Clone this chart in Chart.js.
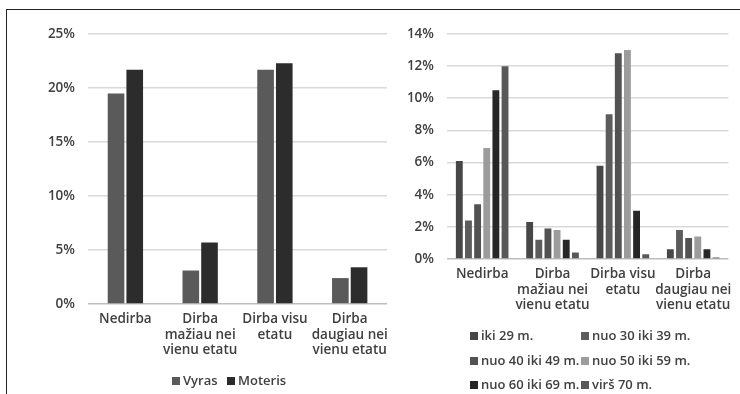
<!DOCTYPE html>
<html>
<head>
<meta charset="utf-8">
<script src="https://cdn.jsdelivr.net/npm/chart.js@4"></script>
<style>
  html, body { margin: 0; padding: 0; background: #fff; }
  body { width: 740px; height: 394px; position: relative; overflow: hidden;
         font-family: "Open Sans", sans-serif; }
  #frame { position: absolute; left: 6px; top: 9px; width: 740px; height: 400px;
           border-left: 1.5px solid #222; border-top: 1.5px solid #222; }
  #c1 { position: absolute; left: 7px; top: 10px; }
  #c2 { position: absolute; left: 396px; top: 10px; }
  .lg { position: absolute; font-size: 13px; font-weight: 600; color: #404040;
        white-space: nowrap; line-height: 16px; }
  .lg span.box { display: inline-block; width: 8px; height: 8px; margin-right: 3px;
                 vertical-align: 0px; }
</style>
</head>
<body>
<div id="frame"></div>
<canvas id="c1" width="389" height="384"></canvas>
<canvas id="c2" width="344" height="384"></canvas>
<script>
// ---- data ----
const categories = [
  ["Nedirba"],
  ["Dirba", "mažiau nei", "vienu etatu"],
  ["Dirba visu", "etatu"],
  ["Dirba", "daugiau nei", "vienu etatu"]
];
const genderLabels = ["Vyras", "Moteris"];
const vyras   = [19.5, 3.1, 21.7, 2.4];
const moteris = [21.7, 5.7, 22.3, 3.4];

const ageLabels = ["iki 29 m.", "nuo 30 iki 39 m.", "nuo 40 iki 49 m.",
                   "nuo 50 iki 59 m.", "nuo 60 iki 69 m.", "virš 70 m."];
const age29   = [6.1, 2.3, 5.8, 0.6];
const age30   = [2.4, 1.2, 9.0, 1.8];
const age40   = [3.4, 1.9, 12.8, 1.3];
const age50   = [6.9, 1.8, 13.0, 1.4];
const age60   = [10.5, 1.2, 3.0, 0.6];
const age70   = [12.0, 0.4, 0.3, 0.1];

const leftTicksMax = 25, leftStep = 5;
const rightTicksMax = 14, rightStep = 2;

// ---- styles ----
const genderColors = ["#5a5a5a", "#2c2c2c"];
const ageColors = ["#474747", "#5c5c5c", "#525252", "#9c9c9c", "#262626", "#585858"];
const txt = "#404040";
const font = { family: "'Open Sans', sans-serif", size: 13.5, weight: 600 };

function gridColor(ctx) {
  return ctx.tick && ctx.tick.value === 0 ? "#bdbdbd" : "#d9d9d9";
}

function makeChart(id, datasets, max, step, yWidth, xHeight, padRight, catPct, barPct) {
  return new Chart(document.getElementById(id), {
    type: "bar",
    data: { labels: categories, datasets },
    options: {
      responsive: false,
      animation: false,
      devicePixelRatio: 1,
      layout: { padding: { top: 24, right: padRight, left: 0, bottom: 0 } },
      datasets: { bar: { categoryPercentage: catPct, barPercentage: barPct } },
      plugins: { legend: { display: false }, tooltip: { enabled: false } },
      scales: {
        x: {
          grid: { display: false, drawTicks: false },
          border: { display: false },
          ticks: { color: txt, font: { ...font, lineHeight: 1.13 }, padding: 8, maxRotation: 0, autoSkip: false },
          afterFit: (s) => { s.height = xHeight; }
        },
        y: {
          min: 0, max: max,
          grid: { color: gridColor, lineWidth: 1.6, drawTicks: false },
          border: { display: false },
          ticks: { stepSize: step, color: txt, font, padding: 13,
                   callback: (v) => v + "%" },
          afterFit: (s) => { s.width = yWidth; }
        }
      }
    }
  });
}

makeChart("c1", [
  { label: genderLabels[0], data: vyras, backgroundColor: genderColors[0] },
  { label: genderLabels[1], data: moteris, backgroundColor: genderColors[1] }
], leftTicksMax, leftStep, 81, 90, 2, 0.5, 0.89);

const ageData = [age29, age30, age40, age50, age60, age70];
makeChart("c2", ageData.map((d, i) => ({
  label: ageLabels[i], data: d, backgroundColor: ageColors[i]
})), rightTicksMax, rightStep, 51, 135, 6, 0.78, 0.75);

// ---- legends (HTML text) ----
function legendItem(label, color, x, y) {
  const d = document.createElement("div");
  d.className = "lg";
  d.style.left = x + "px";
  d.style.top = (y - 8) + "px";
  d.innerHTML = '<span class="box" style="background:' + color + '"></span>';
  d.appendChild(document.createTextNode(label));
  document.body.appendChild(d);
}
legendItem(genderLabels[0], genderColors[0], 172, 380);
legendItem(genderLabels[1], genderColors[1], 227, 380);

const colX = [470, 581], rowY = [335, 360, 384];
ageLabels.forEach((l, i) => {
  legendItem(l, ageColors[i], colX[i % 2], rowY[Math.floor(i / 2)]);
});
</script>
</body>
</html>
